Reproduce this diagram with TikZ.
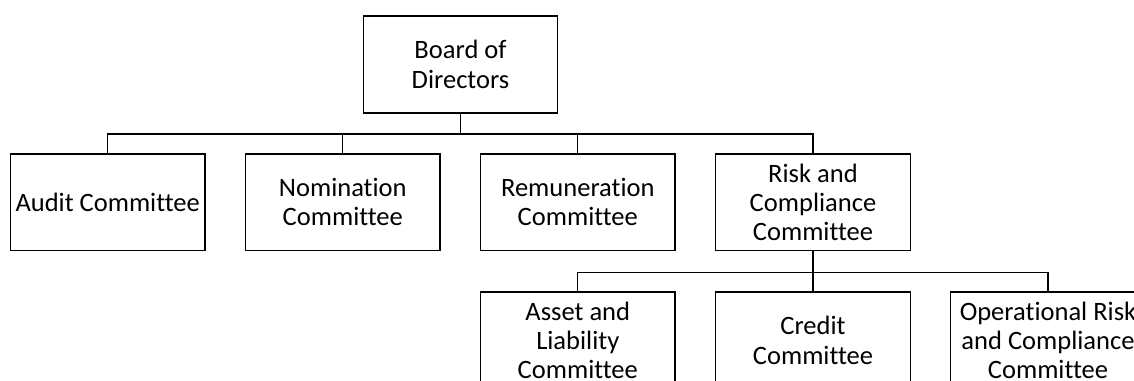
\documentclass[tikz,border=0pt]{standalone}
\usepackage{fontspec}
\setmainfont{Carlito}[Ligatures=NoCommon]
\begin{document}
\begin{tikzpicture}[x=0.75pt,y=-0.75pt,
  orgbox/.style={draw=black,line width=1pt,rectangle,minimum width=145.9pt,minimum height=72.6pt,inner sep=0pt,align=center,
    font=\fontsize{19.9}{22}\selectfont},
  link/.style={draw=black,line width=1pt}]
\useasboundingbox (0,0) rectangle (1134,381);
\node[orgbox] (board) at (460.5,64.5) {Board of\\Directors};
\node[orgbox] (audit) at (107.7,202.3) {Audit Committee};
\node[orgbox] (nom) at (342.8,202.3) {Nomination\\Committee};
\node[orgbox] (rem) at (577.8,202.3) {Remuneration\\Committee};
\node[orgbox] (risk) at (813,202.3) {Risk and\\Compliance\\Committee};
\node[orgbox] (alco) at (577.8,340.3) {Asset and\\Liability\\Committee};
\node[orgbox] (credit) at (813,340.3) {Credit\\Committee};
\node[orgbox] (oprc) at (1048,340.3) {Operational Risk\\and Compliance\\Committee};
\foreach \c in {audit,nom,rem,risk}
  \draw[link] (board.south) -- ++(0,20.4) -| (\c.north);
\foreach \c in {alco,credit,oprc}
  \draw[link] (risk.south) -- ++(0,21.4) -| (\c.north);
\end{tikzpicture}
\end{document}
